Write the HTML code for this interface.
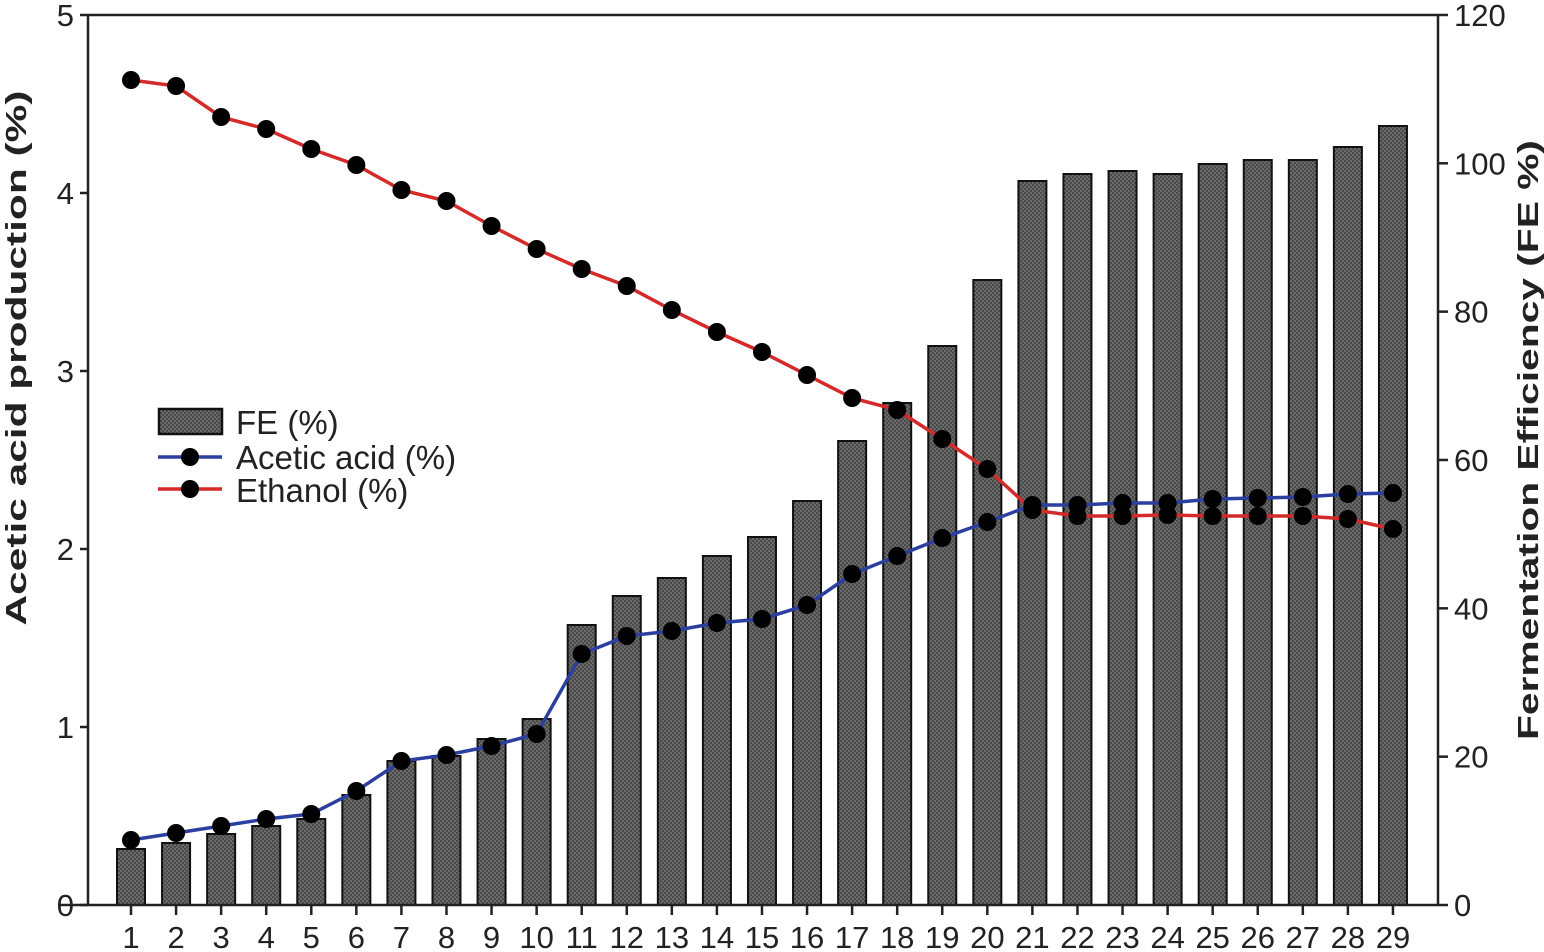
<!DOCTYPE html>
<html><head><meta charset="utf-8"><style>
html,body{margin:0;padding:0;background:#fff}
svg{display:block;font-family:"Liberation Sans",Arial,sans-serif}
</style></head><body>
<svg id="s" width="1544" height="952" viewBox="0 0 1544 952" xmlns="http://www.w3.org/2000/svg">
<defs>
<pattern id="p" width="4" height="4" patternUnits="userSpaceOnUse">
<rect width="4" height="4" fill="#6a6a6a"/><rect width="2" height="2" fill="#4a4a4a"/><rect x="2" y="2" width="2" height="2" fill="#4a4a4a"/>
</pattern>
</defs>
<g id="bars"></g>
<g stroke="#222" stroke-width="2.5" fill="none">
<line x1="88" y1="15" x2="1438" y2="15"/>
<line x1="88" y1="15" x2="88" y2="905"/>
<line x1="1438" y1="15" x2="1438" y2="905"/>
<line x1="60" y1="905" x2="1438" y2="905"/>
</g>
<g id="ticks" stroke="#222" stroke-width="2.5"></g>
<g id="lines"></g>
<g font-size="31" fill="#222" id="lab"></g>
<text transform="translate(26,358) rotate(-90)" text-anchor="middle" font-size="29" font-weight="bold" fill="#222" textLength="535" lengthAdjust="spacingAndGlyphs">Acetic acid production (%)</text>
<text transform="translate(1538,440) rotate(-90)" text-anchor="middle" font-size="29" font-weight="bold" fill="#222" textLength="600" lengthAdjust="spacingAndGlyphs">Fermentation Efficiency (FE %)</text>
<g>
<rect x="159" y="409" width="63" height="25" fill="url(#p)" stroke="#111" stroke-width="2.5"/>
<text x="236" y="434" font-size="33" fill="#222">FE (%)</text>
<line x1="158" y1="457" x2="222" y2="457" stroke="#2b3fa0" stroke-width="3.5"/>
<circle cx="190" cy="457" r="9" fill="#000"/>
<text x="236" y="469" font-size="33" fill="#222">Acetic acid (%)</text>
<line x1="158" y1="489" x2="222" y2="489" stroke="#d42a2a" stroke-width="3.5"/>
<circle cx="190" cy="489" r="9" fill="#000"/>
<text x="236" y="502" font-size="33" fill="#222">Ethanol (%)</text>
</g>
</svg>
<script>
var NS="http://www.w3.org/2000/svg";
function el(p,t,a,txt){var e=document.createElementNS(NS,t);for(var k in a)e.setAttribute(k,a[k]);if(txt!=null)e.textContent=txt;document.getElementById(p).appendChild(e);return e;}
var bt=[849,843,834,826,819,795,761,756,739,719,625,596,578,556,537,501,441,403,346,280,181,174,171,174,164,160,160,147,126];
var ac=[840,833,826,819,814,791,761,755,746,734,654,636,631,623,619,605,574,556,538,522,505,505,503,503,499,498,497,494,493];
var et=[80,86,117,129,149,165,190,201,226,249,269,286,310,332,352,375,398,410,439,469,510,516,516,515,516,516,516,519,529];
function X(i){return 131+i*45.07;}
for(var i=0;i<29;i++){
 el("bars","rect",{x:X(i)-14,y:bt[i],width:28,height:905-bt[i],fill:"url(#p)",stroke:"#111","stroke-width":2});
 el("ticks","line",{x1:X(i),y1:905,x2:X(i),y2:915});
 el("lab","text",{x:X(i),y:948,"text-anchor":"middle"},String(i+1));
}
for(var v=0;v<=5;v++){var y=905-v*178;el("ticks","line",{x1:80,y1:y,x2:88,y2:y});el("lab","text",{x:74,y:y+11,"text-anchor":"end"},String(v));}
for(var v=0;v<=120;v+=20){var y=905-v*7.417;el("ticks","line",{x1:1438,y1:y,x2:1448,y2:y});el("lab","text",{x:1454,y:y+11,"text-anchor":"start"},String(v));}
function line(arr,c){var d=arr.map(function(y,i){return (i?"L":"M")+X(i)+" "+y}).join(" ");
 el("lines","path",{d:d,fill:"none",stroke:c,"stroke-width":3.5});}
line(ac,"#2b3fa0");line(et,"#d42a2a");
for(var i=0;i<29;i++){el("lines","circle",{cx:X(i),cy:ac[i],r:9,fill:"#000"});el("lines","circle",{cx:X(i),cy:et[i],r:9,fill:"#000"});}
</script>
</body></html>
